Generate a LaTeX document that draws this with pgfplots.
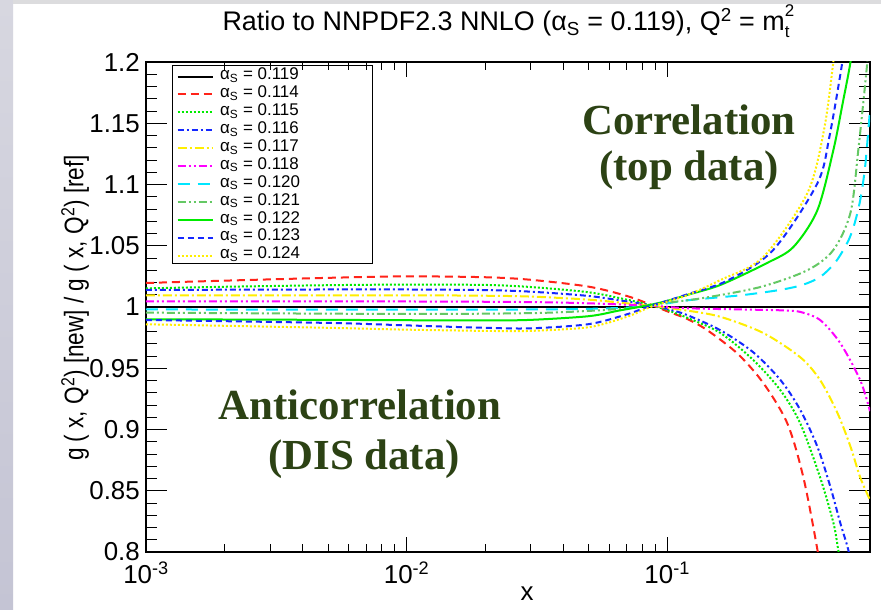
\documentclass[border=0pt]{standalone}
\usepackage{pgfplots}
\pgfplotsset{compat=1.18}
\usepackage{fontspec}
\setmainfont{Liberation Sans}
\newfontfamily\serifbold{Liberation Serif}
\definecolor{cred}{RGB}{255,35,25}
\definecolor{cgreen}{RGB}{0,235,0}
\definecolor{cblue}{RGB}{20,40,255}
\definecolor{cyellow}{RGB}{255,238,0}
\definecolor{cmag}{RGB}{255,0,255}
\definecolor{ccyan}{RGB}{0,230,255}
\definecolor{clgreen}{RGB}{100,200,100}
\definecolor{annot}{RGB}{44,66,20}
\definecolor{bgtop}{RGB}{215,215,224}
\definecolor{bgbot}{RGB}{196,196,212}
\definecolor{bgstrip}{RGB}{220,220,222}
\newcommand{\as}{α\textsubscript{S}}
\begin{document}
\begin{tikzpicture}
\fill[white] (0,0) rectangle (881bp,610bp);
\shade[top color=bgtop, bottom color=bgbot] (0,0) rectangle (13bp,610bp);
\fill[bgstrip] (13bp,606bp) rectangle (881bp,610bp);
\useasboundingbox (0,0) rectangle (881bp,610bp);
\begin{axis}[
  at={(146bp,58bp)}, anchor=south west,
  scale only axis, width=724bp, height=490bp,
  xmode=log, xmin=0.001, xmax=0.6, ymin=0.8, ymax=1.2,
  xtick={0.001,0.01,0.1},
  xticklabels={10\textsuperscript{-3},10\textsuperscript{-2},10\textsuperscript{-1}},
  ytick={0.8,0.85,0.9,0.95,1,1.05,1.1,1.15,1.2},
  yticklabels={0.8,0.85,0.9,0.95,1,1.05,1.1,1.15,1.2},
  minor y tick num=4,
  tick align=inside,
  xtick style={black, line width=0.9bp, /pgfplots/major tick length=15bp, /pgfplots/minor tick length=8bp},
  ytick style={black, line width=0.9bp, /pgfplots/major tick length=21bp, /pgfplots/minor tick length=11bp},
  axis line style={black, line width=1.1bp},
  ticklabel style={font=\fontsize{26}{26}\selectfont},
  yticklabel style={inner sep=0pt, xshift=-6bp},
  xticklabel style={inner sep=0pt, yshift=-10bp},
  legend style={at={(0.038,0.990)}, anchor=north west, draw=none, fill=none,
    font=\fontsize{17}{17}\selectfont, inner xsep=3bp, inner ysep=0.5bp,
    nodes={inner sep=0.5bp, text height=11.8bp, text depth=5.1bp}, row sep=0bp},
  legend cell align=left,
  legend image code/.code={\draw[#1] (0bp,0bp) -- (35bp,0bp); \path (41bp,0bp);},
  clip=true,
]
\addplot[black, line width=2bp] coordinates {(0.001,1) (0.6,1)};
\addlegendentry{\as{} = 0.119}
\addplot[cred, line width=2bp, dash pattern=on 8bp off 5bp, smooth] coordinates {
(0.001,1.0196) (0.002,1.0215) (0.005,1.0238) (0.01,1.0250) (0.02,1.0243) (0.03,1.0222)
(0.05,1.0166) (0.07,1.0090) (0.0875,1.0015) (0.1,0.9965) (0.12,0.9900) (0.1426,0.9810)
(0.186,0.9620) (0.2336,0.9380) (0.289,0.9050) (0.333,0.8610) (0.377,0.8020) (0.40,0.765)};
\addlegendentry{\as{} = 0.114}
\addplot[cgreen, line width=2bp, dash pattern=on 2bp off 2bp, smooth] coordinates {
(0.001,1.0152) (0.002,1.0165) (0.005,1.0178) (0.01,1.0183) (0.02,1.0180) (0.03,1.0163)
(0.05,1.0120) (0.07,1.0060) (0.0875,1.0012) (0.1,0.9975) (0.12,0.9910) (0.16,0.9788)
(0.214,0.9567) (0.272,0.9320) (0.324,0.9050) (0.386,0.8610) (0.434,0.8240) (0.453,0.8020) (0.48,0.770)};
\addlegendentry{\as{} = 0.115}
\addplot[cblue, line width=2bp, dash pattern=on 6bp off 3bp on 2bp off 3bp, smooth] coordinates {
(0.001,1.0139) (0.002,1.0141) (0.005,1.0143) (0.01,1.0143) (0.02,1.0138) (0.03,1.0125)
(0.05,1.0090) (0.07,1.0045) (0.0875,1.0012) (0.1,0.9985) (0.119,0.9935) (0.16,0.9810)
(0.214,0.9630) (0.272,0.9404) (0.324,0.9160) (0.377,0.8860) (0.423,0.8530) (0.461,0.8240) (0.495,0.8020) (0.52,0.780)};
\addlegendentry{\as{} = 0.116}
\addplot[cyellow, line width=2bp, dash pattern=on 9bp off 3bp on 2bp off 3bp, smooth] coordinates {
(0.001,1.0095) (0.01,1.0095) (0.02,1.0092) (0.03,1.0085) (0.05,1.0060) (0.07,1.0030)
(0.0875,1.0010) (0.12,0.9970) (0.16,0.9920) (0.2336,0.9788) (0.324,0.9590) (0.386,0.9404)
(0.45,0.9135) (0.505,0.8860) (0.55,0.8610) (0.6,0.8425)};
\addlegendentry{\as{} = 0.117}
\addplot[cmag, line width=2bp, dash pattern=on 8bp off 3bp on 2bp off 3bp on 2bp off 3bp, smooth] coordinates {
(0.001,1.0045) (0.01,1.0045) (0.03,1.0040) (0.05,1.0030) (0.0875,1.0010) (0.119,0.9990)
(0.214,0.9978) (0.28,0.9972) (0.324,0.9960) (0.386,0.9894) (0.461,0.9706) (0.55,0.9404) (0.6,0.915)};
\addlegendentry{\as{} = 0.118}
\addplot[ccyan, line width=2bp, dash pattern=on 12bp off 8bp, smooth] coordinates {
(0.001,0.9980) (0.01,0.9978) (0.03,0.9980) (0.05,0.9985) (0.07,0.9995) (0.0875,1.0012)
(0.1,1.0030) (0.12,1.0055) (0.16,1.0080) (0.2,1.0100) (0.272,1.0140) (0.33,1.0180)
(0.386,1.0245) (0.44,1.0360) (0.49,1.0520) (0.52,1.0660) (0.55,1.0870) (0.575,1.1150) (0.6,1.1610)};
\addlegendentry{\as{} = 0.120}
\addplot[clgreen, line width=2bp, dash pattern=on 8bp off 3bp on 2bp off 3bp on 2bp off 3bp, smooth] coordinates {
(0.001,0.9954) (0.01,0.9943) (0.03,0.9950) (0.05,0.9968) (0.07,0.9990) (0.0875,1.0015)
(0.1,1.0035) (0.137,1.0073) (0.2275,1.0163) (0.345,1.0300) (0.434,1.0465) (0.505,1.0770)
(0.541,1.1280) (0.586,1.2000) (0.6,1.23)};
\addlegendentry{\as{} = 0.121}
\addplot[cgreen, line width=2bp, smooth] coordinates {
(0.001,0.9900) (0.005,0.9895) (0.01,0.9892) (0.02,0.9890) (0.03,0.9895) (0.05,0.9925)
(0.065,0.9970) (0.085,1.0015) (0.1,1.0050) (0.119,1.0098) (0.16,1.0180) (0.242,1.0360)
(0.305,1.0490) (0.377,1.0790) (0.434,1.1280) (0.47,1.1650) (0.505,1.2000) (0.52,1.225)};
\addlegendentry{\as{} = 0.122}
\addplot[cblue, line width=2bp, dash pattern=on 6bp off 4bp, smooth] coordinates {
(0.001,0.9894) (0.005,0.9870) (0.01,0.9850) (0.02,0.9830) (0.03,0.9826) (0.05,0.9860)
(0.07,0.9940) (0.085,1.0005) (0.1,1.0050) (0.12,1.0105) (0.17,1.0215) (0.255,1.0465)
(0.377,1.1010) (0.42,1.1400) (0.47,1.2000) (0.49,1.23)};
\addlegendentry{\as{} = 0.123}
\addplot[cyellow, line width=2bp, dash pattern=on 2bp off 2bp, smooth] coordinates {
(0.001,0.9859) (0.005,0.9830) (0.01,0.9815) (0.02,0.9805) (0.03,0.9805) (0.05,0.9835)
(0.07,0.9920) (0.085,0.9995) (0.1,1.0045) (0.119,1.0095) (0.16,1.0220) (0.2336,1.0408)
(0.345,1.0930) (0.40,1.1450) (0.434,1.2000) (0.45,1.23)};
\addlegendentry{\as{} = 0.124}
\end{axis}
\draw[black, line width=0.8bp] (172bp,545bp) rectangle (372bp,347bp);
\node[font=\fontsize{27}{27}\selectfont, anchor=base] at (506bp,579bp)
  {Ratio to NNPDF2.3 NNLO (\as{} = 0.119), Q\textsuperscript{2} = m\rlap{\raisebox{14bp}{\fontsize{17}{17}\selectfont 2}}\raisebox{-7bp}{\fontsize{17}{17}\selectfont t}};
\node[font=\fontsize{27}{27}\selectfont, rotate=90] at (75bp,302bp)
  {\scalebox{0.84}[1]{g ( x, Q\textsuperscript{2}) [new] / g ( x, Q\textsuperscript{2}) [ref]}};
\node[font=\fontsize{26}{26}\selectfont, anchor=base] at (527bp,10bp) {x};
\node[font=\serifbold\bfseries\fontsize{43}{43}\selectfont, text=annot, anchor=base] at (689bp,475bp) {Correlation};
\node[font=\serifbold\bfseries\fontsize{43}{43}\selectfont, text=annot, anchor=base] at (689bp,429bp) {(top data)};
\node[font=\serifbold\bfseries\fontsize{43}{43}\selectfont, text=annot, anchor=base] at (360bp,190bp) {Anticorrelation};
\node[font=\serifbold\bfseries\fontsize{43}{43}\selectfont, text=annot, anchor=base] at (364bp,140bp) {(DIS data)};
\end{tikzpicture}
\end{document}
